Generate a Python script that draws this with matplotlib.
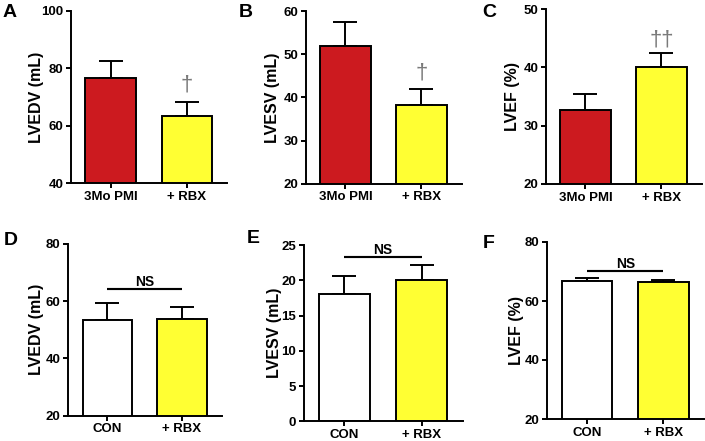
import matplotlib
matplotlib.use("Agg")
import matplotlib.pyplot as plt

plt.rcParams['font.family'] = ['Liberation Sans', 'DejaVu Sans']
plt.rcParams['font.weight'] = 'bold'

RED = '#CC1A1F'
YEL = '#FFFF33'
WHITE = '#FFFFFF'

labels_top = ['3Mo PMI', '+ RBX']
labels_bot = ['CON', '+ RBX']

lvedv_pmi = [76.5, 63.4]; lvedv_pmi_err = [6.2, 5.0]
lvesv_pmi = [51.9, 38.2]; lvesv_pmi_err = [5.5, 3.7]
lvef_pmi = [32.7, 40.1];  lvef_pmi_err = [2.8, 2.3]
lvedv_con = [53.5, 53.8]; lvedv_con_err = [5.8, 4.1]
lvesv_con = [18.1, 20.1]; lvesv_con_err = [2.5, 2.1]
lvef_con = [66.7, 66.3];  lvef_con_err = [1.0, 0.8]

W, H = 705, 441
fig = plt.figure(figsize=(W / 100, H / 100), dpi=100)

def add_ax(l, r, t, b):
    return fig.add_axes([l / W, 1 - b / H, (r - l) / W, (b - t) / H])

panels = [
    ('A', (71, 227, 11, 183.3), lvedv_pmi, lvedv_pmi_err, labels_top, [RED, YEL],
     (40, 100), [40, 60, 80, 100], 'LVEDV (mL)', 36, (3, 17), ('dagger', 74.2, '†')),
    ('B', (306, 461.7, 11, 183.7), lvesv_pmi, lvesv_pmi_err, labels_top, [RED, YEL],
     (20, 60), [20, 30, 40, 50, 60], 'LVESV (mL)', 273, (239, 17), ('dagger', 45.6, '†')),
    ('C', (546, 701.7, 9, 184), lvef_pmi, lvef_pmi_err, labels_top, [RED, YEL],
     (20, 50), [20, 30, 40, 50], 'LVEF (%)', 513, (482, 17), ('dagger', 44.7, '††')),
    ('D', (68.3, 221.7, 244, 415.7), lvedv_con, lvedv_con_err, labels_bot, [WHITE, YEL],
     (20, 80), [20, 40, 60, 80], 'LVEDV (mL)', 36, (4, 245), ('ns', 64.3)),
    ('E', (304, 462.7, 245, 421.3), lvesv_con, lvesv_con_err, labels_bot, [WHITE, YEL],
     (0, 25), [0, 5, 10, 15, 20, 25], 'LVESV (mL)', 275, (247, 243), ('ns', 23.35)),
    ('F', (547.3, 704, 242, 419), lvef_con, lvef_con_err, labels_bot, [WHITE, YEL],
     (20, 80), [20, 40, 60, 80], 'LVEF (%)', 517, (483, 248), ('ns', 70.2)),
]

LW = 1.4
for letter, box, vals, errs, labs, cols, ylim, yt, ylab, ylx, lpos, annot in panels:
    l, r, t, b = box
    ax = add_ax(l, r, t, b)
    x = [0, 1]
    ax.errorbar(x, vals, yerr=[[0, 0], errs], fmt='none', ecolor='black',
                elinewidth=LW, capsize=8.5, capthick=LW, zorder=1)
    ax.bar(x, vals, width=0.66, color=cols, edgecolor='black', linewidth=LW,
           zorder=2, bottom=0)
    ax.set_xlim(-0.52, 1.53)
    ax.set_ylim(*ylim)
    ax.set_yticks(yt)
    ax.set_xticks(x)
    ax.set_xticklabels(labs)
    for s in ['top', 'right']:
        ax.spines[s].set_visible(False)
    for s in ['left', 'bottom']:
        ax.spines[s].set_linewidth(LW)
    ax.tick_params(axis='both', direction='out', length=3.5, width=LW,
                   labelsize=9.5, pad=2)
    for tl in ax.get_xticklabels() + ax.get_yticklabels():
        tl.set_fontweight('bold')
    fig.text(ylx / W, 1 - ((t + b) / 2) / H, ylab, rotation=90, ha='center',
             va='center', fontsize=11.5, fontweight='bold')
    fig.text(lpos[0] / W, 1 - lpos[1] / H, letter, ha='left', va='baseline',
             fontsize=14, fontweight='bold')
    if annot[0] == 'dagger':
        ax.text(1, annot[1], annot[2], ha='center', va='center', fontsize=16,
                fontweight='normal', color='#7a7a7a', family='Liberation Sans')
    else:
        ax.plot([0, 1], [annot[1], annot[1]], color='black', lw=LW * 1.1,
                solid_capstyle='butt', clip_on=False)
        ax.text(0.5, annot[1], 'NS', ha='center', va='bottom', fontsize=10,
                fontweight='bold')

fig.savefig('out.png', dpi=100)
